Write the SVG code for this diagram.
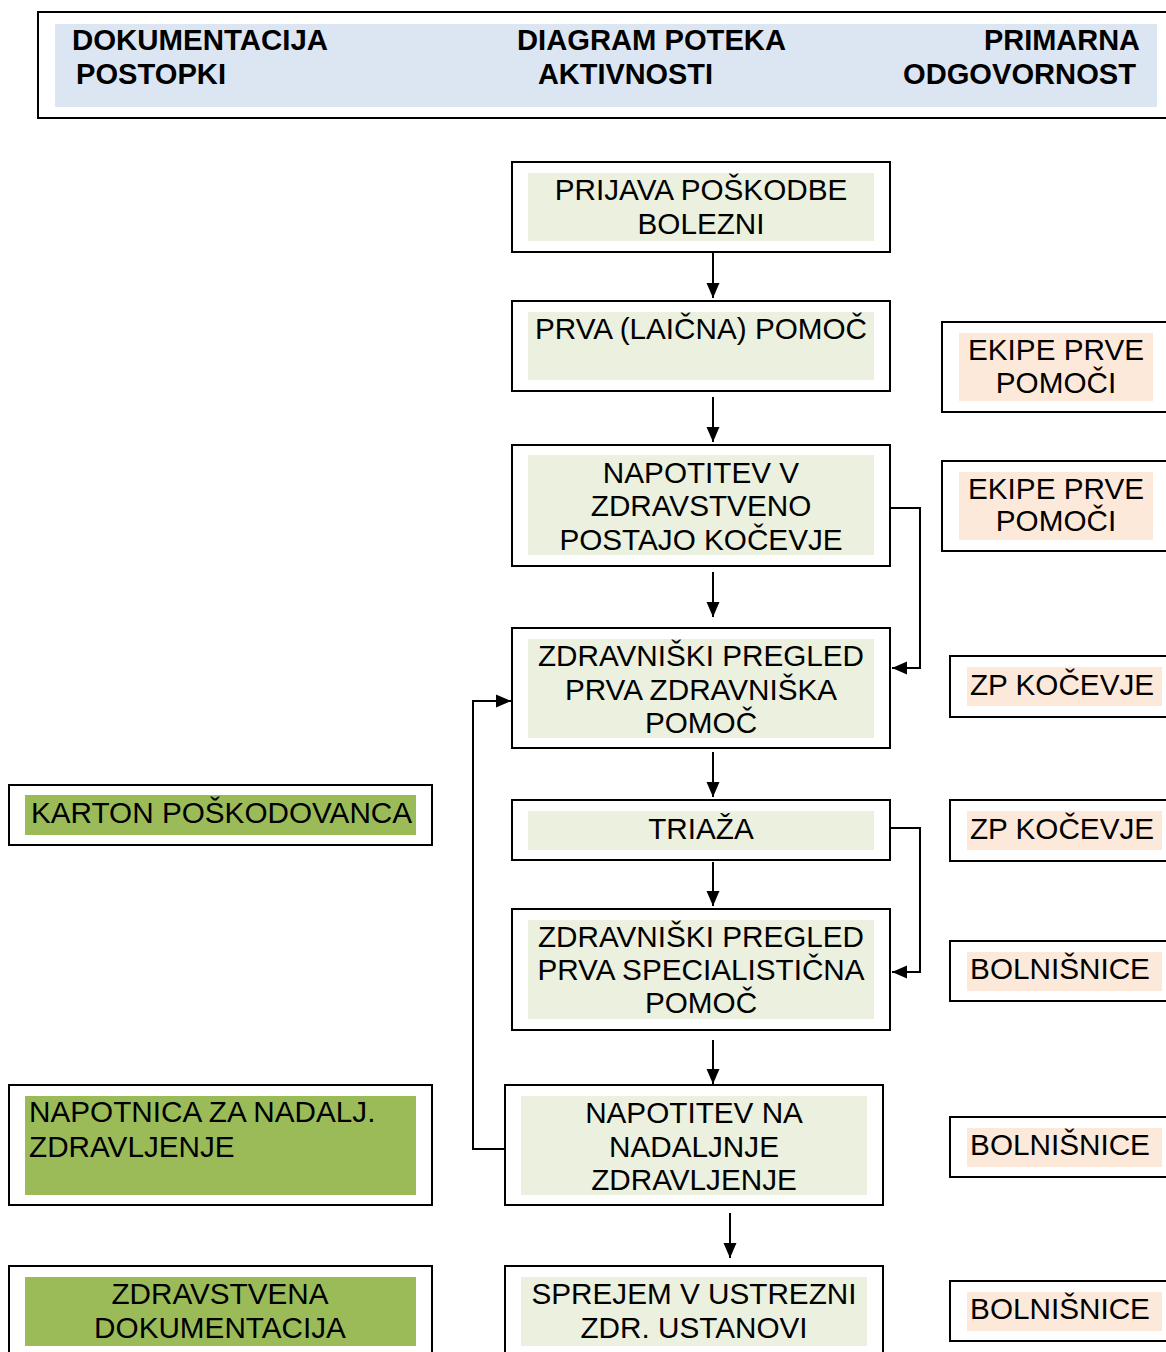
<svg xmlns="http://www.w3.org/2000/svg" width="1166" height="1352" viewBox="0 0 1166 1352">
<style>
.frame{fill:#ffffff;stroke:#000000;stroke-width:2}
.act{fill:#ebf1de}
.resp{fill:#fde9d9}
.doc{fill:#9bbb59}
.t{font-family:"Liberation Sans",Arial,sans-serif;font-size:29.7px;fill:#000000}
.c{text-anchor:middle}
.h{font-family:"Liberation Sans",Arial,sans-serif;font-size:29px;font-weight:bold;fill:#000000}
.conn{fill:none;stroke:#000000;stroke-width:2}
</style>
<defs>
<marker id="arr" markerUnits="userSpaceOnUse" markerWidth="15" markerHeight="15" viewBox="0 0 15 15" refX="15" refY="7.5" orient="auto">
<path d="M0,1 L15,7.5 L0,14 Z" fill="#000000"/>
</marker>
</defs>

<g id="header">
<rect x="38" y="12" width="1140" height="106" class="frame"/>
<rect x="55" y="24" width="1102" height="83" fill="#dce6f2"/>
<text class="h" x="72" y="50" textLength="256" lengthAdjust="spacingAndGlyphs">DOKUMENTACIJA</text>
<text class="h" x="76" y="84" textLength="150" lengthAdjust="spacingAndGlyphs">POSTOPKI</text>
<text class="h" x="517" y="50" textLength="269" lengthAdjust="spacingAndGlyphs">DIAGRAM POTEKA</text>
<text class="h" x="538" y="84" textLength="175" lengthAdjust="spacingAndGlyphs">AKTIVNOSTI</text>
<text class="h" x="984" y="50" textLength="156" lengthAdjust="spacingAndGlyphs">PRIMARNA</text>
<text class="h" x="903" y="84" textLength="233" lengthAdjust="spacingAndGlyphs">ODGOVORNOST</text>
</g>

<g id="connectors">
<line class="conn" x1="713" y1="253" x2="713" y2="298" marker-end="url(#arr)"/>
<line class="conn" x1="713" y1="397" x2="713" y2="442" marker-end="url(#arr)"/>
<line class="conn" x1="713" y1="572" x2="713" y2="617" marker-end="url(#arr)"/>
<line class="conn" x1="713" y1="752" x2="713" y2="797" marker-end="url(#arr)"/>
<line class="conn" x1="713" y1="862" x2="713" y2="906" marker-end="url(#arr)"/>
<line class="conn" x1="713" y1="1040" x2="713" y2="1084" marker-end="url(#arr)"/>
<line class="conn" x1="730" y1="1213" x2="730" y2="1258" marker-end="url(#arr)"/>
<polyline class="conn" points="890,508 920,508 920,668 892,668" marker-end="url(#arr)"/>
<polyline class="conn" points="890,828 920,828 920,972 892,972" marker-end="url(#arr)"/>
<polyline class="conn" points="505,1149 473,1149 473,701 511,701" marker-end="url(#arr)"/>
</g>

<g id="n_prijava">
<rect x="512" y="162" width="378" height="90" class="frame"/>
<rect x="528" y="173" width="346" height="68" class="act"/>
<text class="t c" x="701" y="200">PRIJAVA POŠKODBE</text>
<text class="t c" x="701" y="234">BOLEZNI</text>
</g>

<g id="n_prva">
<rect x="512" y="301" width="378" height="90" class="frame"/>
<rect x="528" y="312" width="346" height="68" class="act"/>
<text class="t c" x="701" y="339">PRVA (LAIČNA) POMOČ</text>
</g>

<g id="n_napotitev_zp">
<rect x="512" y="445" width="378" height="121" class="frame"/>
<rect x="528" y="455" width="346" height="100" class="act"/>
<text class="t c" x="701" y="483">NAPOTITEV V</text>
<text class="t c" x="701" y="516">ZDRAVSTVENO</text>
<text class="t c" x="701" y="550">POSTAJO KOČEVJE</text>
</g>

<g id="n_pregled1">
<rect x="512" y="628" width="378" height="120" class="frame"/>
<rect x="528" y="639" width="346" height="99" class="act"/>
<text class="t c" x="701" y="666">ZDRAVNIŠKI PREGLED</text>
<text class="t c" x="701" y="700">PRVA ZDRAVNIŠKA</text>
<text class="t c" x="701" y="733">POMOČ</text>
</g>

<g id="n_triaza">
<rect x="512" y="800" width="378" height="60" class="frame"/>
<rect x="528" y="811" width="346" height="39" class="act"/>
<text class="t c" x="701" y="839">TRIAŽA</text>
</g>

<g id="n_pregled2">
<rect x="512" y="909" width="378" height="121" class="frame"/>
<rect x="528" y="920" width="346" height="99" class="act"/>
<text class="t c" x="701" y="947">ZDRAVNIŠKI PREGLED</text>
<text class="t c" x="701" y="980">PRVA SPECIALISTIČNA</text>
<text class="t c" x="701" y="1013">POMOČ</text>
</g>

<g id="n_napotitev_nad">
<rect x="505" y="1085" width="378" height="120" class="frame"/>
<rect x="521" y="1096" width="346" height="99" class="act"/>
<text class="t c" x="694" y="1123">NAPOTITEV NA</text>
<text class="t c" x="694" y="1157">NADALJNJE</text>
<text class="t c" x="694" y="1190">ZDRAVLJENJE</text>
</g>

<g id="n_sprejem">
<rect x="505" y="1266" width="378" height="100" class="frame"/>
<rect x="521" y="1277" width="346" height="69" class="act"/>
<text class="t c" x="694" y="1304">SPREJEM V USTREZNI</text>
<text class="t c" x="694" y="1338">ZDR. USTANOVI</text>
</g>

<g id="r_ekipe1">
<rect x="942" y="322" width="230" height="90" class="frame"/>
<rect x="959" y="333" width="194" height="68" class="resp"/>
<text class="t c" x="1056" y="360">EKIPE PRVE</text>
<text class="t c" x="1056" y="393">POMOČI</text>
</g>

<g id="r_ekipe2">
<rect x="942" y="461" width="230" height="90" class="frame"/>
<rect x="959" y="472" width="194" height="68" class="resp"/>
<text class="t c" x="1056" y="499">EKIPE PRVE</text>
<text class="t c" x="1056" y="531">POMOČI</text>
</g>

<g id="r_zp1">
<rect x="950" y="656" width="222" height="61" class="frame"/>
<rect x="967" y="667" width="195" height="39" class="resp"/>
<text class="t c" x="1062" y="695">ZP KOČEVJE</text>
</g>

<g id="r_zp2">
<rect x="950" y="800" width="222" height="61" class="frame"/>
<rect x="967" y="811" width="195" height="39" class="resp"/>
<text class="t c" x="1062" y="839">ZP KOČEVJE</text>
</g>

<g id="r_bol1">
<rect x="950" y="941" width="222" height="60" class="frame"/>
<rect x="967" y="952" width="195" height="39" class="resp"/>
<text class="t c" x="1060" y="979">BOLNIŠNICE</text>
</g>

<g id="r_bol2">
<rect x="950" y="1117" width="222" height="60" class="frame"/>
<rect x="967" y="1128" width="195" height="39" class="resp"/>
<text class="t c" x="1060" y="1155">BOLNIŠNICE</text>
</g>

<g id="r_bol3">
<rect x="950" y="1281" width="222" height="60" class="frame"/>
<rect x="967" y="1292" width="195" height="39" class="resp"/>
<text class="t c" x="1060" y="1319">BOLNIŠNICE</text>
</g>

<g id="d_karton">
<rect x="9" y="785" width="423" height="60" class="frame"/>
<rect x="25" y="795" width="391" height="40" class="doc"/>
<text class="t" x="31" y="823">KARTON POŠKODOVANCA</text>
</g>

<g id="d_napotnica">
<rect x="9" y="1085" width="423" height="120" class="frame"/>
<rect x="25" y="1096" width="391" height="99" class="doc"/>
<text class="t" x="29" y="1122">NAPOTNICA ZA NADALJ.</text>
<text class="t" x="29" y="1157">ZDRAVLJENJE</text>
</g>

<g id="d_dokumentacija">
<rect x="9" y="1266" width="423" height="100" class="frame"/>
<rect x="25" y="1277" width="391" height="69" class="doc"/>
<text class="t c" x="220" y="1304">ZDRAVSTVENA</text>
<text class="t c" x="220" y="1338">DOKUMENTACIJA</text>
</g>
</svg>
